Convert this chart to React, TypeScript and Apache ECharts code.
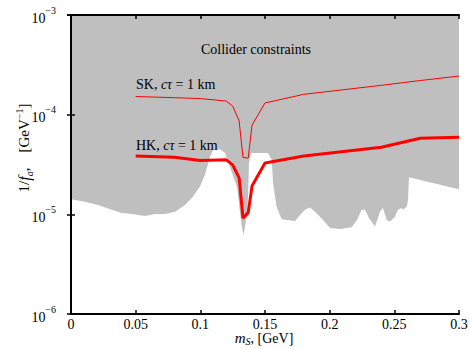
import React, { useEffect, useRef } from "react";
import * as echarts from "echarts";

// Collider constraints boundary (gray region lies above it)
const boundaryX = [0, 0.0108, 0.0209, 0.0315, 0.0392, 0.0469, 0.0572, 0.065, 0.0727, 0.0804, 0.0881, 0.0943, 0.0997, 0.1036, 0.1075, 0.1098, 0.1152, 0.1191, 0.1229, 0.1284, 0.1307, 0.1325, 0.1335, 0.1345, 0.1361, 0.1369, 0.1376, 0.1392, 0.1523, 0.1552, 0.1562, 0.159, 0.1629, 0.1668, 0.1732, 0.1771, 0.1809, 0.1848, 0.1887, 0.1949, 0.2003, 0.208, 0.217, 0.2211, 0.2248, 0.2273, 0.2304, 0.2351, 0.2389, 0.2412, 0.2441, 0.2467, 0.2505, 0.2528, 0.2557, 0.2567, 0.2596, 0.2606, 0.2613, 0.3];
const boundaryY = [1.42e-5, 1.34e-5, 1.24e-5, 1.11e-5, 1.03e-5, 1.01e-5, 9.64e-6, 1.01e-5, 1.01e-5, 1.06e-5, 1.24e-5, 1.51e-5, 1.9e-5, 2.5e-5, 3.79e-5, 4.43e-5, 4.5e-5, 4.13e-5, 2.99e-5, 1.88e-5, 1.03e-5, 7.0e-6, 6.2e-6, 7.48e-6, 1.03e-5, 1.5e-5, 3.28e-5, 4.13e-5, 4.13e-5, 3.52e-5, 2.06e-5, 1.19e-5, 8.93e-6, 8.79e-6, 8.59e-6, 9.86e-6, 1.11e-5, 1.17e-5, 1.06e-5, 8.79e-6, 7.31e-6, 7.14e-6, 7.43e-6, 8.79e-6, 1.11e-5, 1.11e-5, 9.21e-6, 7.53e-6, 1.06e-5, 1.16e-5, 8.79e-6, 8.45e-6, 9.48e-6, 1.11e-5, 1.16e-5, 1.11e-5, 1.19e-5, 1.39e-5, 2.35e-5, 1.79e-5];

// SK, c tau = 1 km (thin red)
const skX = [0.05, 0.08, 0.1, 0.12, 0.125, 0.13, 0.133, 0.137, 0.14, 0.15, 0.18, 0.24, 0.27, 0.3];
const skY = [1.52e-4, 1.48e-4, 1.45e-4, 1.37e-4, 1.22e-4, 8.65e-5, 3.72e-5, 3.67e-5, 7.89e-5, 1.31e-4, 1.6e-4, 1.97e-4, 2.2e-4, 2.44e-4];

// HK, c tau = 1 km (thick red)
const hkX = [0.05, 0.08, 0.1, 0.12, 0.125, 0.13, 0.133, 0.137, 0.14, 0.15, 0.18, 0.24, 0.27, 0.3];
const hkY = [3.85e-5, 3.74e-5, 3.46e-5, 3.52e-5, 3.13e-5, 2.32e-5, 9.14e-6, 1.04e-5, 1.93e-5, 3.28e-5, 3.85e-5, 4.71e-5, 5.8e-5, 5.93e-5];

const xTicks = { min: 0, max: 0.3, interval: 0.05 };
const yTicks = { min: 1e-6, max: 1e-3 };

const FONT = "'Liberation Serif', 'Times New Roman', serif";

export default function App() {
  const ref = useRef<HTMLDivElement>(null);
  useEffect(() => {
    document.body.style.margin = "0";
    const chart = echarts.init(ref.current!, null, { renderer: "svg" });
    const zip = (xs: number[], ys: number[]) => xs.map((x, i) => [x, ys[i]]);
    const axisLineStyle = { show: true, lineStyle: { color: "#000", width: 2 } };
    const tickStyle = { show: true, inside: true, length: 4, lineStyle: { color: "#000", width: 1.5 } };
    const xLabelFmt = (v: number) => (v === 0 ? "0" : String(+v.toFixed(2)));
    chart.setOption({
      animation: false,
      backgroundColor: "#fff",
      grid: { left: 71, right: 11, top: 15, bottom: 35, containLabel: false, outerBoundsMode: "none" },
      xAxis: [
        {
          type: "value",
          min: xTicks.min,
          max: xTicks.max,
          interval: xTicks.interval,
          position: "bottom",
          z: 10,
          axisLine: axisLineStyle,
          axisTick: tickStyle,
          splitLine: { show: false },
          axisLabel: { formatter: xLabelFmt, color: "#000", fontFamily: FONT, fontSize: 14, margin: 3, showMinLabel: true, showMaxLabel: true },
        },
        {
          type: "value",
          min: xTicks.min,
          max: xTicks.max,
          interval: xTicks.interval,
          position: "top",
          z: 10,
          axisLine: axisLineStyle,
          axisTick: tickStyle,
          splitLine: { show: false },
          axisLabel: { show: false },
        },
      ],
      yAxis: [
        {
          type: "log",
          logBase: 10,
          min: yTicks.min,
          max: yTicks.max,
          position: "left",
          z: 10,
          axisLine: axisLineStyle,
          axisTick: tickStyle,
          minorTick: { show: false },
          splitLine: { show: false },
          axisLabel: {
            margin: 15,
            color: "#000",
            formatter: (v: number) => "{b|10}{sup|" + "\u2212" + Math.round(-Math.log10(v)) + "}",
            rich: {
              b: { fontFamily: FONT, fontSize: 14, lineHeight: 20, verticalAlign: "bottom", color: "#000" },
              sup: { fontFamily: FONT, fontSize: 10, lineHeight: 10, verticalAlign: "top", color: "#000" },
            },
          },
        },
        {
          type: "log",
          logBase: 10,
          min: yTicks.min,
          max: yTicks.max,
          position: "right",
          z: 10,
          axisLine: axisLineStyle,
          axisTick: tickStyle,
          splitLine: { show: false },
          axisLabel: { show: false },
        },
      ],
      series: [
        {
          type: "line",
          name: "Collider constraints",
          data: zip(boundaryX, boundaryY),
          symbol: "none",
          lineStyle: { width: 0, color: "#bfbfbf" },
          areaStyle: { color: "#bfbfbf", opacity: 1, origin: "end" },
          z: 1,
        },
        {
          type: "line",
          name: "SK",
          data: zip(skX, skY),
          symbol: "none",
          lineStyle: { width: 1, color: "#ff0000" },
          z: 3,
        },
        {
          type: "line",
          name: "HK",
          data: zip(hkX, hkY),
          symbol: "none",
          lineStyle: { width: 3, color: "#ff0000" },
          z: 3,
        },
      ],
      graphic: [
        {
          type: "text",
          x: 256,
          y: 49,
          z: 20,
          style: { text: "Collider constraints", fill: "#000", font: `14px ${FONT}`, align: "center", verticalAlign: "middle" },
        },
        {
          type: "text",
          x: 136,
          y: 84,
          z: 20,
          style: {
            text: "SK, {i|cτ} = 1 km",
            fill: "#000",
            font: `14px ${FONT}`,
            align: "left",
            verticalAlign: "middle",
            rich: { i: { fontStyle: "italic", fontFamily: FONT, fontSize: 14, fill: "#000" } },
          },
        },
        {
          type: "text",
          x: 136,
          y: 145,
          z: 20,
          style: {
            text: "HK, {i|cτ} = 1 km",
            fill: "#000",
            font: `14px ${FONT}`,
            align: "left",
            verticalAlign: "middle",
            rich: { i: { fontStyle: "italic", fontFamily: FONT, fontSize: 14, fill: "#000" } },
          },
        },
        {
          type: "text",
          x: 264,
          y: 338,
          z: 20,
          style: {
            text: "{i|m}{sub|S}{n|, [GeV]}",
            fill: "#000",
            align: "center",
            verticalAlign: "middle",
            rich: {
              n: { fontFamily: FONT, fontSize: 14, lineHeight: 16, verticalAlign: "middle", fill: "#000" },
              i: { fontFamily: FONT, fontStyle: "italic", fontSize: 15, lineHeight: 16, verticalAlign: "middle", fill: "#000" },
              sub: { fontFamily: FONT, fontStyle: "italic", fontSize: 10, lineHeight: 8, verticalAlign: "bottom", fill: "#000" },
            },
          },
        },
        {
          type: "text",
          x: 24,
          y: 148,
          rotation: Math.PI / 2,
          z: 20,
          style: {
            text: "{n|1/}{i|f}{sub|a}{n|,    [GeV}{sup|−1}{n|]}",
            fill: "#000",
            align: "center",
            verticalAlign: "middle",
            rich: {
              n: { fontFamily: FONT, fontSize: 15, lineHeight: 20, verticalAlign: "middle", fill: "#000" },
              i: { fontFamily: FONT, fontStyle: "italic", fontSize: 16, lineHeight: 20, verticalAlign: "middle", fill: "#000" },
              sub: { fontFamily: FONT, fontStyle: "italic", fontSize: 10, lineHeight: 10, verticalAlign: "bottom", fill: "#000" },
              sup: { fontFamily: FONT, fontSize: 10, lineHeight: 10, verticalAlign: "top", fill: "#000" },
            },
          },
        },
      ],
    });
    return () => chart.dispose();
  }, []);
  return <div ref={ref} style={{ width: 470, height: 349 }} />;
}
